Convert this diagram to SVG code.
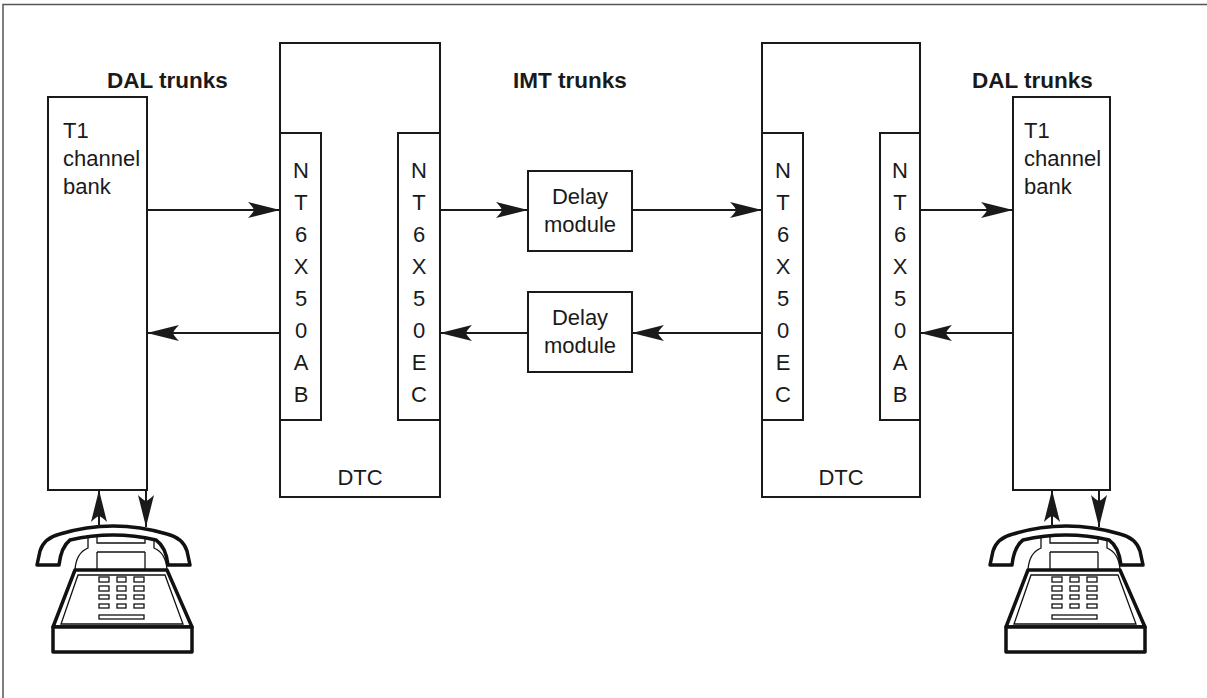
<svg xmlns="http://www.w3.org/2000/svg" width="1207" height="698" viewBox="0 0 1207 698">
  <style>
    .box { fill: #fff; stroke: #1a1a1a; stroke-width: 2; }
    .lbl { font-family: "Liberation Sans", Arial, sans-serif; font-size: 22px; fill: #1a1a1a; }
    .ttl { font-family: "Liberation Sans", Arial, sans-serif; font-size: 22.5px; font-weight: bold; fill: #1a1a1a; }
    .mid { text-anchor: middle; }
    .wire { fill: none; stroke: #1a1a1a; stroke-width: 2; }
    .frame { fill: none; stroke: #555; stroke-width: 1.5; }
    .ph-thick { fill: #fff; stroke: #111; stroke-width: 3.5; stroke-linejoin: round; }
    .ph-thin { fill: #fff; stroke: #111; stroke-width: 1.3; }
  </style>
  <defs>
    <marker id="arrow" viewBox="-34 -10 36 20" refX="0" refY="0" markerUnits="userSpaceOnUse" markerWidth="36" markerHeight="20" orient="auto">
      <path d="M0,0 L-32,-8 Q-27,-3 -26,0 Q-27,3 -32,8 Z" fill="#1a1a1a"/>
    </marker>
    <g id="phone">
      <!-- cradle hooks and shoulders (behind the handset) -->
      <path class="ph-thin" d="M75,570 Q76,553 88,548 L88,535 L97,535 L97,543 L145,543 L145,535 L154,535 L154,548 Q166,553 167,570 Z"/>
      <line class="ph-thin" x1="97" y1="552" x2="145" y2="552"/>
      <line class="ph-thin" x1="97" y1="552" x2="97" y2="570"/>
      <line class="ph-thin" x1="145" y1="552" x2="145" y2="570"/>
      <!-- handset -->
      <path class="ph-thick" d="M37,565 L40,551 Q44,538 60,534 Q113,518 167,534 Q183,538 187,551 L190,565 L168,565 Q166,547 156,540 Q113,530 70,540 Q61,547 59,565 Z"/>
      <!-- cradle body -->
      <path class="ph-thick" d="M75,570 L167,570 L192,627 L53,627 Z"/>
      <rect class="ph-thick" x="53" y="627" width="139" height="25"/>
      <!-- keypad panel -->
      <path class="ph-thin" d="M78,575 L165,575 L183,624 L61,624 Z"/>
      <g class="ph-thin">
        <rect x="99" y="577" width="10" height="5"/><rect x="117" y="577" width="9" height="5"/><rect x="134" y="577" width="10" height="5"/>
        <rect x="99" y="586" width="10" height="5"/><rect x="117" y="586" width="9" height="5"/><rect x="134" y="586" width="10" height="5"/>
        <rect x="99" y="595" width="10" height="4"/><rect x="117" y="595" width="9" height="4"/><rect x="134" y="595" width="10" height="4"/>
        <rect x="99" y="604" width="10" height="4"/><rect x="117" y="604" width="9" height="4"/><rect x="134" y="604" width="10" height="4"/>
        <rect x="99" y="615" width="45" height="4"/>
      </g>
    </g>
  </defs>

  <rect width="1207" height="698" fill="#fff"/>
  <path class="frame" d="M3,698 L3,4.5 L1207,4.5"/>

  <!-- section titles -->
  <text class="ttl" x="107" y="88">DAL trunks</text>
  <text class="ttl" x="513" y="88">IMT trunks</text>
  <text class="ttl" x="972" y="88">DAL trunks</text>

  <!-- left T1 channel bank -->
  <g id="t1-left">
    <rect class="box" x="48" y="97" width="99" height="393"/>
    <text class="lbl" x="63" y="138">T1</text>
    <text class="lbl" x="63" y="166">channel</text>
    <text class="lbl" x="63" y="194">bank</text>
  </g>

  <!-- left DTC -->
  <g id="dtc-left">
    <rect class="box" x="280" y="43" width="160" height="454"/>
    <text class="lbl mid" x="360" y="485">DTC</text>
  </g>
  <g id="card-left-ab">
    <rect class="box" x="280" y="133" width="41" height="287"/>
    <text class="lbl mid" x="301" y="178">N</text>
    <text class="lbl mid" x="301" y="210">T</text>
    <text class="lbl mid" x="301" y="242">6</text>
    <text class="lbl mid" x="301" y="274">X</text>
    <text class="lbl mid" x="301" y="306">5</text>
    <text class="lbl mid" x="301" y="338">0</text>
    <text class="lbl mid" x="301" y="370">A</text>
    <text class="lbl mid" x="301" y="402">B</text>
  </g>
  <g id="card-left-ec">
    <rect class="box" x="398" y="133" width="42" height="287"/>
    <text class="lbl mid" x="419" y="178">N</text>
    <text class="lbl mid" x="419" y="210">T</text>
    <text class="lbl mid" x="419" y="242">6</text>
    <text class="lbl mid" x="419" y="274">X</text>
    <text class="lbl mid" x="419" y="306">5</text>
    <text class="lbl mid" x="419" y="338">0</text>
    <text class="lbl mid" x="419" y="370">E</text>
    <text class="lbl mid" x="419" y="402">C</text>
  </g>

  <!-- delay modules -->
  <g id="delay-top">
    <rect class="box" x="528" y="171" width="104" height="80"/>
    <text class="lbl mid" x="580" y="204">Delay</text>
    <text class="lbl mid" x="580" y="232">module</text>
  </g>
  <g id="delay-bottom">
    <rect class="box" x="528" y="292" width="104" height="80"/>
    <text class="lbl mid" x="580" y="325">Delay</text>
    <text class="lbl mid" x="580" y="353">module</text>
  </g>

  <!-- right DTC -->
  <g id="dtc-right">
    <rect class="box" x="762" y="43" width="158" height="454"/>
    <text class="lbl mid" x="841" y="485">DTC</text>
  </g>
  <g id="card-right-ec">
    <rect class="box" x="762" y="133" width="41" height="287"/>
    <text class="lbl mid" x="783" y="178">N</text>
    <text class="lbl mid" x="783" y="210">T</text>
    <text class="lbl mid" x="783" y="242">6</text>
    <text class="lbl mid" x="783" y="274">X</text>
    <text class="lbl mid" x="783" y="306">5</text>
    <text class="lbl mid" x="783" y="338">0</text>
    <text class="lbl mid" x="783" y="370">E</text>
    <text class="lbl mid" x="783" y="402">C</text>
  </g>
  <g id="card-right-ab">
    <rect class="box" x="880" y="133" width="40" height="287"/>
    <text class="lbl mid" x="900" y="178">N</text>
    <text class="lbl mid" x="900" y="210">T</text>
    <text class="lbl mid" x="900" y="242">6</text>
    <text class="lbl mid" x="900" y="274">X</text>
    <text class="lbl mid" x="900" y="306">5</text>
    <text class="lbl mid" x="900" y="338">0</text>
    <text class="lbl mid" x="900" y="370">A</text>
    <text class="lbl mid" x="900" y="402">B</text>
  </g>

  <!-- right T1 channel bank -->
  <g id="t1-right">
    <rect class="box" x="1013" y="97" width="97" height="393"/>
    <text class="lbl" x="1024" y="138">T1</text>
    <text class="lbl" x="1024" y="166">channel</text>
    <text class="lbl" x="1024" y="194">bank</text>
  </g>

  <!-- telephones -->
  <g id="phone-left"><use href="#phone"/></g>
  <g id="phone-right"><use href="#phone" transform="translate(953,0)"/></g>

  <!-- connectors -->
  <g id="connectors" class="wire" marker-end="url(#arrow)">
    <line x1="147" y1="210" x2="280" y2="210"/>
    <line x1="280" y1="333" x2="147" y2="333"/>
    <line x1="440" y1="210" x2="528" y2="210"/>
    <line x1="528" y1="333" x2="440" y2="333"/>
    <line x1="632" y1="210" x2="762" y2="210"/>
    <line x1="762" y1="333" x2="632" y2="333"/>
    <line x1="920" y1="210" x2="1013" y2="210"/>
    <line x1="1013" y1="333" x2="920" y2="333"/>
    <line x1="99" y1="527" x2="99" y2="490"/>
    <line x1="146" y1="490" x2="146" y2="527"/>
    <line x1="1052" y1="527" x2="1052" y2="490"/>
    <line x1="1099" y1="490" x2="1099" y2="527"/>
  </g>
</svg>
